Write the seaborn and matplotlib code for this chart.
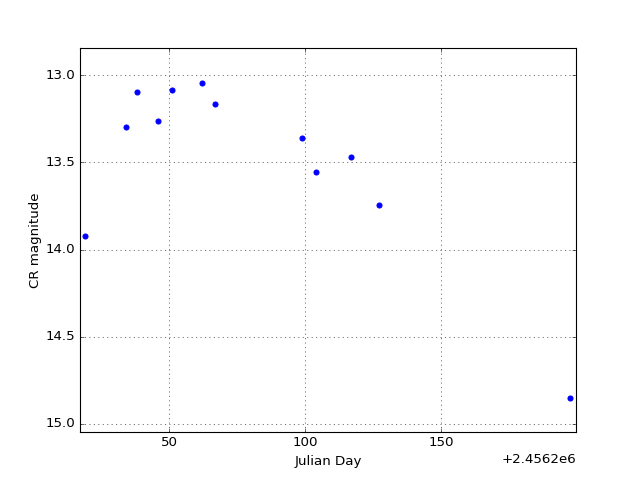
import matplotlib
matplotlib.use("Agg")
import matplotlib.pyplot as plt
from matplotlib.ticker import MultipleLocator
import seaborn as sns
import pandas as pd

julian_day = [2456219.1, 2456234.2, 2456238.2, 2456246.0, 2456251.1, 2456262.1,
              2456266.9, 2456298.9, 2456304.0, 2456316.9, 2456327.2, 2456397.4]
cr_magnitude = [13.925, 13.30, 13.10, 13.265, 13.086, 13.046,
                13.167, 13.362, 13.557, 13.471, 13.747, 14.85]

plt.style.use("classic")
df = pd.DataFrame({"Julian Day": julian_day, "CR magnitude": cr_magnitude})

fig = plt.figure(figsize=(8, 6), dpi=80)
ax = fig.add_axes([0.125, 0.1, 0.775, 0.8])
sns.scatterplot(data=df, x="Julian Day", y="CR magnitude", ax=ax,
                color="b", edgecolor="b", s=20, linewidth=1, zorder=3)
ax.set_xlim(2456217.3, 2456399.6)
ax.set_ylim(15.046, 12.845)
ax.xaxis.set_major_locator(MultipleLocator(50))
ax.yaxis.set_major_locator(MultipleLocator(0.5))
ax.xaxis.get_major_formatter().set_useOffset(2456200)
ax.grid(True)
ax.set_xlabel("Julian Day")
ax.set_ylabel("CR magnitude", labelpad=3)
fig.savefig("out.png", dpi=80)
